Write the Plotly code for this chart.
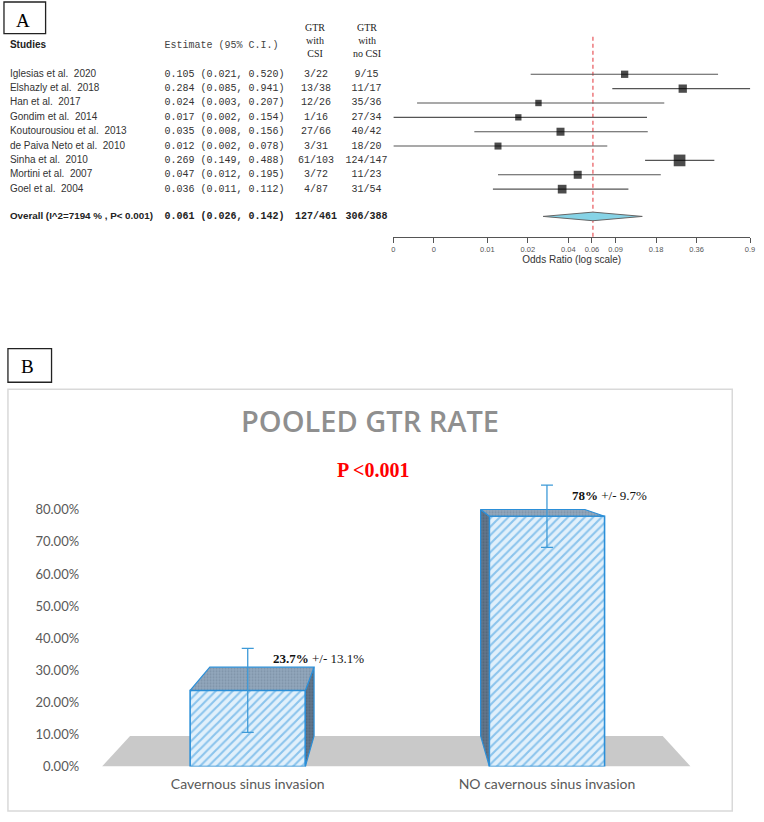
import math
import plotly.graph_objects as go

# ---------------- DATA ----------------
# Panel A: forest plot
studies = ["Iglesias et al.  2020", "Elshazly et al.  2018", "Han et al.  2017",
           "Gondim et al.  2014", "Koutourousiou et al.  2013", "de Paiva Neto et al.  2010",
           "Sinha et al.  2010", "Mortini et al.  2007", "Goel et al.  2004"]
estimate = [0.105, 0.284, 0.024, 0.017, 0.035, 0.012, 0.269, 0.047, 0.036]
ci_low = [0.021, 0.085, 0.003, 0.002, 0.008, 0.002, 0.149, 0.012, 0.011]
ci_high = [0.520, 0.941, 0.207, 0.154, 0.156, 0.078, 0.488, 0.195, 0.112]
gtr_csi = ["3/22", "13/38", "12/26", "1/16", "27/66", "3/31", "61/103", "3/72", "4/87"]
gtr_no_csi = ["9/15", "11/17", "35/36", "27/34", "40/42", "18/20", "124/147", "11/23", "31/54"]
study_weight = [7.3, 8.3, 6.4, 6.3, 8.0, 7.0, 11.7, 8.0, 8.7]  # relative box size

overall_label = "Overall (I^2=7194 % , P< 0.001)"
overall_est = 0.061
overall_low = 0.026
overall_high = 0.142
overall_csi = "127/461"
overall_no_csi = "306/388"

forest_tickvals = [0.002, 0.004, 0.01, 0.02, 0.04, 0.06, 0.09, 0.18, 0.36, 0.9]
forest_ticktext = ["0", "0", "0.01", "0.02", "0.04", "0.06", "0.09", "0.18", "0.36", "0.9"]

# Panel B: pooled GTR rate
categories = ["Cavernous sinus invasion", "NO cavernous sinus invasion"]
gtr_rate = [0.237, 0.78]
gtr_err = [0.131, 0.097]
rate_tickvals = [0.0, 0.1, 0.2, 0.3, 0.4, 0.5, 0.6, 0.7, 0.8]
rate_ticktext = ["0.00%", "10.00%", "20.00%", "30.00%", "40.00%", "50.00%", "60.00%", "70.00%", "80.00%"]
p_value_text = "P <0.001"
chart_title = "POOLED GTR RATE"

# ---------------- LAYOUT HELPERS ----------------
W, H = 764, 822


def px(x):
    return x / W


def py(y):
    return 1 - y / H


SANS = "Liberation Sans, Arial, sans-serif"
MONO = "Liberation Mono, Courier New, monospace"
SERIF = "Liberation Serif, Times New Roman, serif"
CAL = "Lato, Open Sans, sans-serif"

fig = go.Figure()

# ---------------- PANEL A ----------------
ROW0, ROW_STEP = 75.0, 14.5          # pixel centre of first row, row spacing
A_TOP, A_BOT = 0.0, 270.0            # pixel extent of panel-A y axis
rows = list(range(len(studies)))
overall_row = 9.9
header_row = -2.0
k_top = (A_TOP - ROW0) / ROW_STEP
k_bot = (A_BOT - ROW0) / ROW_STEP
axis_px = 239.0
k_axis = (axis_px - ROW0) / ROW_STEP
k_line_top = (37 - ROW0) / ROW_STEP

txt_col = "#333333"
LEFT_TXT = 8      # left edge of study column (text trace adds its own pad)
EST_TXT = 164     # left edge of estimate column

# study names
fig.add_trace(go.Scatter(x=[LEFT_TXT] * len(studies), y=rows, mode="text", text=studies,
                         textposition="middle right", cliponaxis=False, hoverinfo="skip",
                         textfont=dict(family=SANS, size=10, color=txt_col),
                         xaxis="x", yaxis="y"))
# estimates
est_text = [f"{e:.3f} ({l:.3f}, {h:.3f})" for e, l, h in zip(estimate, ci_low, ci_high)]
fig.add_trace(go.Scatter(x=[EST_TXT] * len(studies), y=rows, mode="text", text=est_text,
                         textposition="middle right", cliponaxis=False, hoverinfo="skip",
                         textfont=dict(family=MONO, size=10, color=txt_col),
                         xaxis="x", yaxis="y"))
# GTR columns
fig.add_trace(go.Scatter(x=[317] * len(studies), y=rows, mode="text", text=gtr_csi,
                         textposition="middle center", cliponaxis=False, hoverinfo="skip",
                         textfont=dict(family=MONO, size=10, color=txt_col),
                         xaxis="x", yaxis="y"))
fig.add_trace(go.Scatter(x=[368] * len(studies), y=rows, mode="text", text=gtr_no_csi,
                         textposition="middle center", cliponaxis=False, hoverinfo="skip",
                         textfont=dict(family=MONO, size=10, color=txt_col),
                         xaxis="x", yaxis="y"))
# overall row text
ov_est_text = f"{overall_est:.3f} ({overall_low:.3f}, {overall_high:.3f})"
fig.add_trace(go.Scatter(x=[LEFT_TXT, EST_TXT], y=[overall_row, overall_row], mode="text",
                         text=[f"<b>{overall_label}</b>", f"<b>{ov_est_text}</b>"],
                         textposition="middle right", cliponaxis=False, hoverinfo="skip",
                         textfont=dict(family=[SANS, MONO], size=[9.8, 10], color="#222222"),
                         xaxis="x", yaxis="y"))
fig.add_trace(go.Scatter(x=[317, 368], y=[overall_row, overall_row], mode="text",
                         text=[f"<b>{overall_csi}</b>", f"<b>{overall_no_csi}</b>"],
                         textposition="middle center", cliponaxis=False, hoverinfo="skip",
                         textfont=dict(family=MONO, size=10, color="#222222"),
                         xaxis="x", yaxis="y"))
# headers
fig.add_trace(go.Scatter(x=[LEFT_TXT], y=[header_row], mode="text", text=["<b>Studies</b>"],
                         textposition="middle right", cliponaxis=False, hoverinfo="skip",
                         textfont=dict(family=SANS, size=10, color="#222222"),
                         xaxis="x", yaxis="y"))
fig.add_trace(go.Scatter(x=[EST_TXT], y=[header_row], mode="text", text=["Estimate (95% C.I.)"],
                         textposition="middle right", cliponaxis=False, hoverinfo="skip",
                         textfont=dict(family=MONO, size=10, color="#444444"),
                         xaxis="x", yaxis="y"))

# red dashed reference line at overall estimate
fig.add_trace(go.Scatter(x=[overall_est, overall_est], y=[k_line_top, k_axis], mode="lines",
                         line=dict(color="#e8555a", width=1.2, dash="4px,3px"),
                         hoverinfo="skip", cliponaxis=False, xaxis="x2", yaxis="y"))

# study CIs and boxes
fig.add_trace(go.Scatter(
    x=estimate, y=rows, mode="markers", hoverinfo="skip", cliponaxis=False,
    marker=dict(symbol="square", size=study_weight, color="black", line=dict(width=0)),
    error_x=dict(type="data", symmetric=False,
                 array=[h - e for h, e in zip(ci_high, estimate)],
                 arrayminus=[e - l for e, l in zip(estimate, ci_low)],
                 color="#555555", thickness=1.1, width=0),
    xaxis="x2", yaxis="y"))

# overall diamond
dh = 0.3
fig.add_trace(go.Scatter(
    x=[overall_low, overall_est, overall_high, overall_est, overall_low],
    y=[overall_row, overall_row - dh, overall_row, overall_row + dh, overall_row],
    mode="lines", fill="toself", fillcolor="#86d3e6",
    line=dict(color="#666666", width=1), hoverinfo="skip", cliponaxis=False,
    xaxis="x2", yaxis="y"))

# ---------------- PANEL B ----------------
B_X0, B_X1 = 97.0, 701.0     # x-axis domain pixels
B_Y0 = 774.0                 # pixel of 0 %
B_PX_PER = 324.0             # pixels per 100 %
B_YMAX = 0.9
bar_w = 0.385
cat_x = list(range(len(categories)))
vp_x = sum(cat_x) / len(cat_x)   # vanishing point (centre of the chart)
vp_y = 1.0
depth = 0.905


def back(x, y):
    return vp_x + depth * (x - vp_x), vp_y + depth * (y - vp_y)


def poly(points):
    xs = [p[0] for p in points] + [points[0][0]]
    ys = [p[1] for p in points] + [points[0][1]]
    return xs, ys


# floor (drawn below all traces)
fl, fr = -0.5 + 0.013, 1.5 - 0.02
floor_pts = [(fl, 0), (fr, 0), back(fr, 0), back(fl, 0)]
floor_path = "M " + " L ".join(f"{a},{b}" for a, b in floor_pts) + " Z"

edge_col = "#2b8fd8"
for xc, v in zip(cat_x, gtr_rate):
    left, right = xc - bar_w / 2, xc + bar_w / 2
    # side face visible toward vanishing point
    sx = right if right < vp_x else left
    sxs, sys_ = poly([(sx, 0), (sx, v), back(sx, v), back(sx, 0)])
    fig.add_trace(go.Scatter(x=sxs, y=sys_, mode="lines", fill="toself",
                             fillcolor="#5a6d82",
                             fillpattern=dict(shape=".", bgcolor="#63778c", fgcolor="#3f4f61",
                                              size=3, solidity=0.35),
                             line=dict(color=edge_col, width=1.2), hoverinfo="skip",
                             xaxis="x3", yaxis="y3"))
    # top face
    txs, tys = poly([(left, v), (right, v), back(right, v), back(left, v)])
    fig.add_trace(go.Scatter(x=txs, y=tys, mode="lines", fill="toself",
                             fillcolor="#8097ad",
                             fillpattern=dict(shape=".", bgcolor="#93a8bc", fgcolor="#647a90",
                                              size=3, solidity=0.35),
                             line=dict(color=edge_col, width=1.2), hoverinfo="skip",
                             xaxis="x3", yaxis="y3"))

# front faces
fig.add_trace(go.Bar(x=cat_x, y=gtr_rate, width=bar_w, hoverinfo="skip",
                     marker=dict(color="#e1f0fb",
                                 line=dict(color=edge_col, width=1.6),
                                 pattern=dict(shape="/", fgcolor="#3597de", bgcolor="#e1f0fb",
                                              size=6, solidity=0.35)),
                     xaxis="x3", yaxis="y3"))

# error bars (on top of the 3-D faces)
fig.add_trace(go.Scatter(x=cat_x, y=gtr_rate, mode="markers", hoverinfo="skip",
                         marker=dict(size=2, color="rgba(0,0,0,0)"),
                         error_y=dict(type="data", array=gtr_err, color="#3d9ad8",
                                      thickness=1.3, width=6),
                         cliponaxis=False, xaxis="x3", yaxis="y3"))

annotations = []
for xc, v, e in zip(cat_x, gtr_rate, gtr_err):
    annotations.append(dict(
        x=xc + 0.078, y=v + e - 0.032, xref="x3", yref="y3", xanchor="left", yanchor="middle",
        text=f"<b>{v * 100:g}%</b> +/- {e * 100:g}%", showarrow=False,
        font=dict(family=SERIF, size=13, color="#111111")))

annotations += [
    dict(x=px(21), y=py(21), xref="paper", yref="paper", text="A", showarrow=False,
         font=dict(family=SERIF, size=19, color="black"), xanchor="center", yanchor="middle"),
    dict(x=px(26), y=py(370), xref="paper", yref="paper", text="B", showarrow=False,
         font=dict(family=SERIF, size=19, color="black"), xanchor="center", yanchor="middle"),
    dict(x=px(316), y=py(41), xref="paper", yref="paper", text="GTR<br>with<br>CSI",
         showarrow=False, align="center",
         font=dict(family=SERIF, size=10, color="#222222"), xanchor="center", yanchor="middle"),
    dict(x=px(368), y=py(41), xref="paper", yref="paper", text="GTR<br>with<br>no CSI",
         showarrow=False, align="center",
         font=dict(family=SERIF, size=10, color="#222222"), xanchor="center", yanchor="middle"),
    dict(x=px(371), y=py(425), xref="paper", yref="paper", text=chart_title,
         showarrow=False,
         font=dict(family="Open Sans, sans-serif", size=29, color="#8f8f8f", weight=600),
         xanchor="center", yanchor="middle"),
    dict(x=px(375), y=py(475), xref="paper", yref="paper", text=f"<b>{p_value_text}</b>",
         showarrow=False, font=dict(family=SERIF, size=20, color="#ff0000"),
         xanchor="center", yanchor="middle"),
]

shapes = [
    dict(type="path", xref="x3", yref="y3", path=floor_path, fillcolor="#c9c9c9",
         line=dict(width=0), layer="below"),
    dict(type="rect", xref="paper", yref="paper", x0=px(2), x1=px(44), y0=py(2), y1=py(34),
         line=dict(color="#222222", width=1.3)),
    dict(type="rect", xref="paper", yref="paper", x0=px(6), x1=px(50), y0=py(352), y1=py(386),
         line=dict(color="#222222", width=1.3)),
    dict(type="rect", xref="paper", yref="paper", x0=px(6), x1=px(737), y0=py(393), y1=py(819),
         line=dict(color="#d9d9d9", width=1.5)),
]

fig.update_layout(
    width=W, height=H, margin=dict(l=0, r=0, t=0, b=0),
    paper_bgcolor="white", plot_bgcolor="white", showlegend=False,
    annotations=annotations, shapes=shapes,
    xaxis=dict(domain=[0, px(395)], range=[0, 395], visible=False, anchor="y"),
    yaxis=dict(domain=[py(A_BOT), py(A_TOP)], range=[k_bot, k_top], visible=False, anchor="x"),
    xaxis2=dict(type="log", domain=[px(395), px(755)],
                range=[math.log10(forest_tickvals[0]), math.log10(forest_tickvals[-1])],
                anchor="free", position=py(axis_px), showline=True, linecolor="#555555",
                linewidth=1, ticks="outside", ticklen=5, tickcolor="#555555",
                tickvals=forest_tickvals, ticktext=forest_ticktext, showgrid=False,
                zeroline=False, tickfont=dict(family=SANS, size=7.5, color="#555555"),
                title=dict(text="Odds Ratio (log scale)", standoff=2,
                           font=dict(family=SANS, size=10, color="#333333"))),
    xaxis3=dict(domain=[px(B_X0), px(B_X1)], range=[-0.5, 1.5], anchor="y3",
                tickvals=cat_x, ticktext=categories, showline=False, showgrid=False,
                zeroline=False, ticks="", ticklabelstandoff=8,
                tickfont=dict(family=CAL, size=14, color="#595959")),
    yaxis3=dict(domain=[py(B_Y0), py(B_Y0 - B_PX_PER * B_YMAX)], range=[0, B_YMAX],
                anchor="x3", tickvals=rate_tickvals, ticktext=rate_ticktext,
                showline=False, showgrid=False, zeroline=False, ticks="",
                ticklabelstandoff=18, tickfont=dict(family=CAL, size=13, color="#595959")),
)

fig.write_html("out.html", config={"displayModeBar": False},
               post_script="document.body.style.margin='0';document.body.style.overflow='hidden';")
